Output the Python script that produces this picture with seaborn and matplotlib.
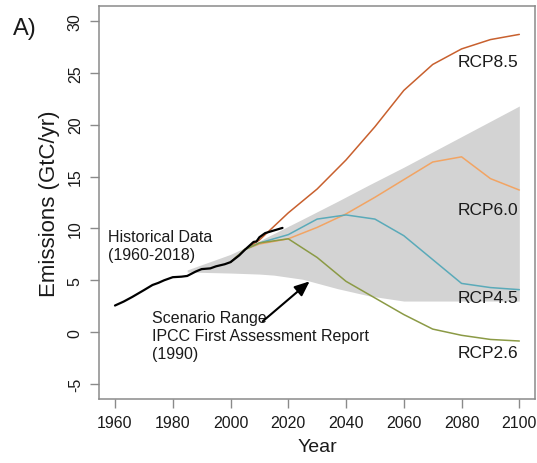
import matplotlib
matplotlib.use("Agg")
import matplotlib.pyplot as plt
import seaborn as sns
import numpy as np
import pandas as pd

# Historical fossil CO2 emissions (GtC/yr)
hist_years = [1960, 1963, 1966, 1970, 1973, 1975, 1977, 1980, 1983, 1985,
              1988, 1990, 1993, 1995, 1998, 2000, 2003, 2005, 2008, 2009,
              2010, 2012, 2015, 2018]
hist_values = [2.57, 2.95, 3.40, 4.05, 4.55, 4.75, 5.00, 5.30, 5.35, 5.42,
               5.85, 6.08, 6.15, 6.35, 6.55, 6.75, 7.40, 7.95, 8.70, 8.75,
               9.15, 9.55, 9.80, 10.05]

# RCP pathways
rcp_years = [2000, 2005, 2010, 2020, 2030, 2040, 2050, 2060, 2070, 2080, 2090, 2100]
rcp85 = [6.74, 7.97, 8.88, 11.5, 13.8, 16.6, 19.8, 23.3, 25.8, 27.3, 28.2, 28.7]
rcp60 = [6.74, 7.97, 8.5, 9.0, 10.1, 11.4, 13.0, 14.7, 16.4, 16.9, 14.8, 13.7]
rcp45 = [6.74, 7.97, 8.6, 9.4, 10.9, 11.3, 10.9, 9.3, 7.0, 4.7, 4.3, 4.1]
rcp26 = [6.74, 7.97, 8.6, 9.0, 7.2, 4.9, 3.3, 1.7, 0.3, -0.3, -0.7, -0.85]

# IPCC FAR scenario range
range_years = [1985, 2000, 2010, 2015, 2025, 2037, 2048, 2060, 2100]
range_upper = [6.0, 7.5, 8.8, 9.5, 10.9, 12.6, 14.2, 15.9, 21.8]
range_lower = [5.8, 5.7, 5.6, 5.5, 5.1, 4.2, 3.5, 3.0, 3.0]

x_ticks = [1960, 1980, 2000, 2020, 2040, 2060, 2080, 2100]
y_ticks = [-5, 0, 5, 10, 15, 20, 25, 30]

sns.set_style("white")
plt.rcParams["font.family"] = ["Liberation Sans", "DejaVu Sans"]

fig = plt.figure(figsize=(5.37, 4.64), dpi=100)
ax = fig.add_axes([0.184, 0.1388, 0.8132, 0.8453])

# scenario range band
band_x = np.arange(1985, 2101)
upper_i = np.interp(band_x, range_years, range_upper)
lower_i = np.interp(band_x, range_years, range_lower)
ax.fill_between(band_x, lower_i, upper_i, color="#d3d3d3", lw=0, zorder=1)

series = [
    ("RCP8.5", rcp85, "#c8602e"),
    ("RCP6.0", rcp60, "#f2a463"),
    ("RCP4.5", rcp45, "#5aaab9"),
    ("RCP2.6", rcp26, "#8b9a45"),
]
for name, vals, col in series:
    df = pd.DataFrame({"Year": rcp_years, "Emissions": vals})
    sns.lineplot(data=df, x="Year", y="Emissions", ax=ax, color=col,
                 lw=1.1, zorder=3)

hist_df = pd.DataFrame({"Year": hist_years, "Emissions": hist_values})
sns.lineplot(data=hist_df, x="Year", y="Emissions", ax=ax, color="black",
             lw=1.6, zorder=4)

ax.set_xlim(1954.4, 2105.6)
ax.set_ylim(-6.4, 31.4)
ax.set_xticks(x_ticks)
ax.set_yticks(y_ticks)
ax.set_yticklabels([str(v) for v in y_ticks], rotation=90, va="center")

txt = "#1a1a1a"
ax.tick_params(axis="both", which="both", direction="out", length=6.5,
               width=1.0, color="#8a8a8a", labelsize=11.5, labelcolor=txt,
               pad=5, left=True, bottom=True)
for sp in ax.spines.values():
    sp.set_visible(True)
    sp.set_color("#8a8a8a")
    sp.set_linewidth(1.1)

ax.set_xlabel("Year", fontsize=14, color=txt, labelpad=6)
ax.set_ylabel("Emissions (GtC/yr)", fontsize=16, color=txt, labelpad=6)

# series labels
for name, yv in [("RCP8.5", 26.1), ("RCP6.0", 11.8), ("RCP4.5", 3.3), ("RCP2.6", -2.0)]:
    ax.text(2099.5, yv, name, ha="right", va="center", fontsize=12.5, color=txt)

ax.text(1957.6, 8.4, "Historical Data\n(1960-2018)", ha="left", va="center",
        fontsize=11.5, color=txt, linespacing=1.25)
ax.text(1972.8, -0.34, "Scenario Range\nIPCC First Assessment Report\n(1990)",
        ha="left", va="center", fontsize=11.5, color=txt, linespacing=1.25)
ax.annotate("", xy=(2027.4, 4.9), xytext=(2011.2, 1.06),
            arrowprops=dict(arrowstyle="-|>,head_length=0.9,head_width=0.38",
                            color="black", lw=1.5, shrinkA=0, shrinkB=0),
            zorder=5)

fig.text(0.047, 0.938, "A)", fontsize=17, color=txt, ha="center", va="center")

fig.savefig("out.png", dpi=100)
